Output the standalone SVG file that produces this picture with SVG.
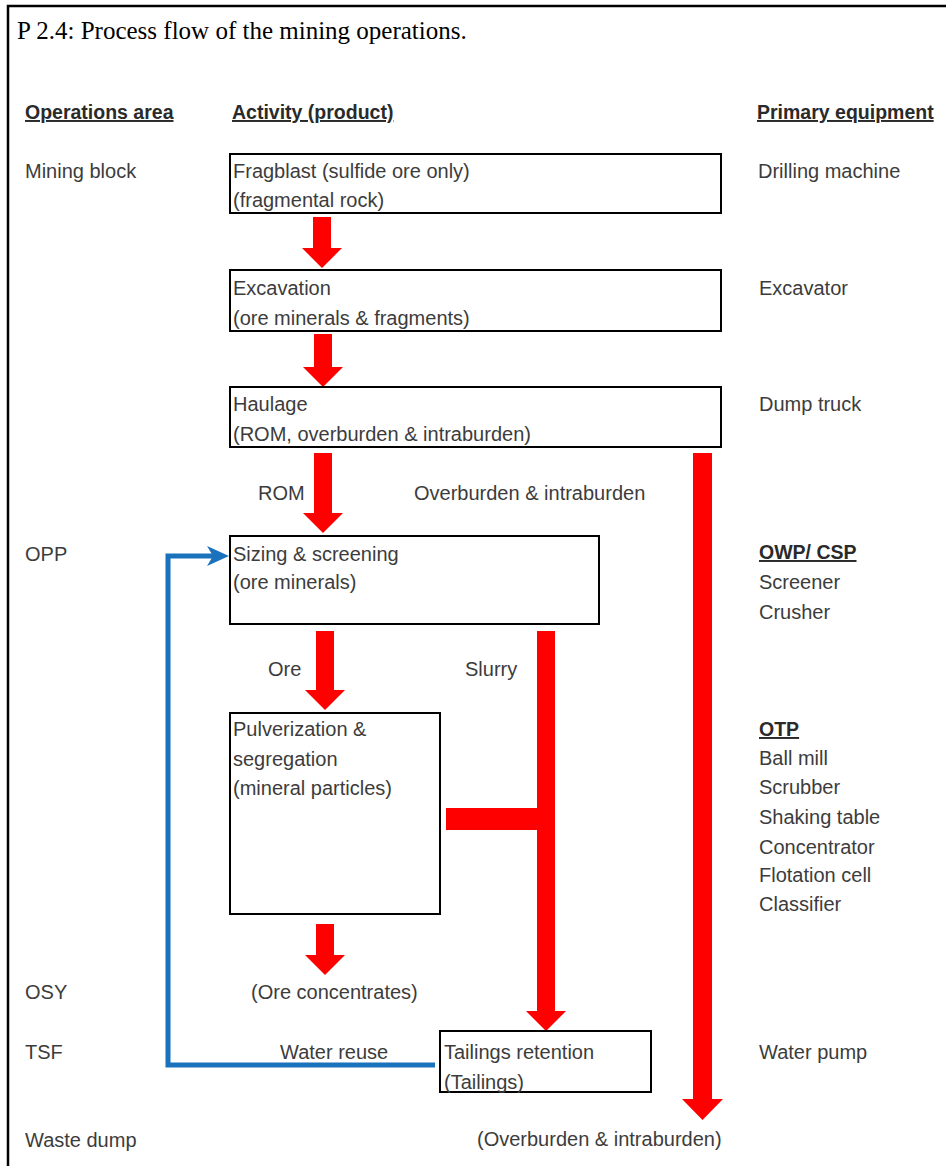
<svg xmlns="http://www.w3.org/2000/svg" width="946" height="1166" viewBox="0 0 946 1166">
  <style>
    .t { font-family: "Liberation Sans", Arial, sans-serif; font-size: 20px; fill: #3c3c3c; }
    .h { font-family: "Liberation Sans", Arial, sans-serif; font-size: 19.5px; font-weight: bold; fill: #2a2a2a; text-decoration: underline; }
    .title { font-family: "Liberation Serif", "Times New Roman", serif; font-size: 25px; fill: #000; }
    .box { fill: #fff; stroke: #000; stroke-width: 2; }
    .red { fill: #ff0000; }
    .blue { fill: none; stroke: #1a72bd; stroke-width: 5; }
  </style>
  <rect width="946" height="1166" fill="#fff"/>
  <path d="M8,1166 V6 H946" fill="none" stroke="#000" stroke-width="2.5"/>

  <text class="title" x="17" y="39">P 2.4: Process flow of the mining operations.</text>

  <!-- column headers -->
  <text class="h" x="25" y="119">Operations area</text>
  <text class="h" x="232" y="119">Activity (product)</text>
  <text class="h" x="757" y="119">Primary equipment</text>

  <!-- operations area column -->
  <g id="areas">
    <text class="t" x="25" y="178">Mining block</text>
    <text class="t" x="25" y="561">OPP</text>
    <text class="t" x="25" y="999">OSY</text>
    <text class="t" x="25" y="1059">TSF</text>
    <text class="t" x="25" y="1147">Waste dump</text>
  </g>

  <!-- equipment column -->
  <g id="equipment">
    <text class="t" x="758" y="178">Drilling machine</text>
    <text class="t" x="759" y="295">Excavator</text>
    <text class="t" x="759" y="411">Dump truck</text>
    <text class="h" x="759" y="559">OWP/ CSP</text>
    <text class="t" x="759" y="589">Screener</text>
    <text class="t" x="759" y="619">Crusher</text>
    <text class="h" x="759" y="736">OTP</text>
    <text class="t" x="759" y="765">Ball mill</text>
    <text class="t" x="759" y="794">Scrubber</text>
    <text class="t" x="759" y="824">Shaking table</text>
    <text class="t" x="759" y="854">Concentrator</text>
    <text class="t" x="759" y="882">Flotation cell</text>
    <text class="t" x="759" y="911">Classifier</text>
    <text class="t" x="759" y="1059">Water pump</text>
  </g>

  <!-- connectors -->
  <g id="connectors">
    <path class="red" d="M313,217 H331 V248 H342 L322,268 L302,248 H313 Z"/>
    <path class="red" d="M314,334 H332 V367 H343 L323,387 L303,367 H314 Z"/>
    <path class="red" d="M314,453 H332 V513 H343 L323,533 L303,513 H314 Z"/>
    <path class="red" d="M316,631 H334 V690 H345 L325,710 L305,690 H316 Z"/>
    <path class="red" d="M316,924 H334 V955 H345 L325,975 L305,955 H316 Z"/>
    <path class="red" d="M537,631 H555 V1011 H566 L546,1031 L526,1011 H537 Z"/>
    <rect class="red" x="446" y="808" width="92" height="22"/>
    <path class="red" d="M693,453 H712 V1099 H723 L702.5,1120 L682,1099 H693 Z"/>
    <path class="blue" d="M435,1065 H168 V556 H216"/>
    <polygon points="229,556 207,546 213,556 207,566" fill="#1a72bd"/>
    <text class="t" x="258" y="500">ROM</text>
    <text class="t" x="414" y="500">Overburden &amp; intraburden</text>
    <text class="t" x="268" y="676">Ore</text>
    <text class="t" x="465" y="676">Slurry</text>
    <text class="t" x="280" y="1059">Water reuse</text>
  </g>

  <!-- nodes -->
  <g id="fragblast">
    <rect class="box" x="230" y="154" width="491" height="59"/>
    <text class="t" x="233" y="178">Fragblast (sulfide ore only)</text>
    <text class="t" x="233" y="207">(fragmental rock)</text>
  </g>
  <g id="excavation">
    <rect class="box" x="230" y="270" width="491" height="61"/>
    <text class="t" x="233" y="295">Excavation</text>
    <text class="t" x="233" y="325">(ore minerals &amp; fragments)</text>
  </g>
  <g id="haulage">
    <rect class="box" x="230" y="387" width="491" height="60"/>
    <text class="t" x="233" y="411">Haulage</text>
    <text class="t" x="233" y="441">(ROM, overburden &amp; intraburden)</text>
  </g>
  <g id="sizing">
    <rect class="box" x="230" y="536" width="369" height="88"/>
    <text class="t" x="233" y="561">Sizing &amp; screening</text>
    <text class="t" x="233" y="589">(ore minerals)</text>
  </g>
  <g id="pulverization">
    <rect class="box" x="230" y="713" width="210" height="201"/>
    <text class="t" x="233" y="736">Pulverization &amp;</text>
    <text class="t" x="233" y="766">segregation</text>
    <text class="t" x="233" y="795">(mineral particles)</text>
  </g>
  <g id="concentrates">
    <text class="t" x="251" y="999">(Ore concentrates)</text>
  </g>
  <g id="tailings">
    <rect class="box" x="440" y="1031" width="211" height="61"/>
    <text class="t" x="444" y="1059">Tailings retention</text>
    <text class="t" x="444" y="1089">(Tailings)</text>
  </g>
  <g id="waste">
    <text class="t" x="477" y="1146">(Overburden &amp; intraburden)</text>
  </g>
</svg>
